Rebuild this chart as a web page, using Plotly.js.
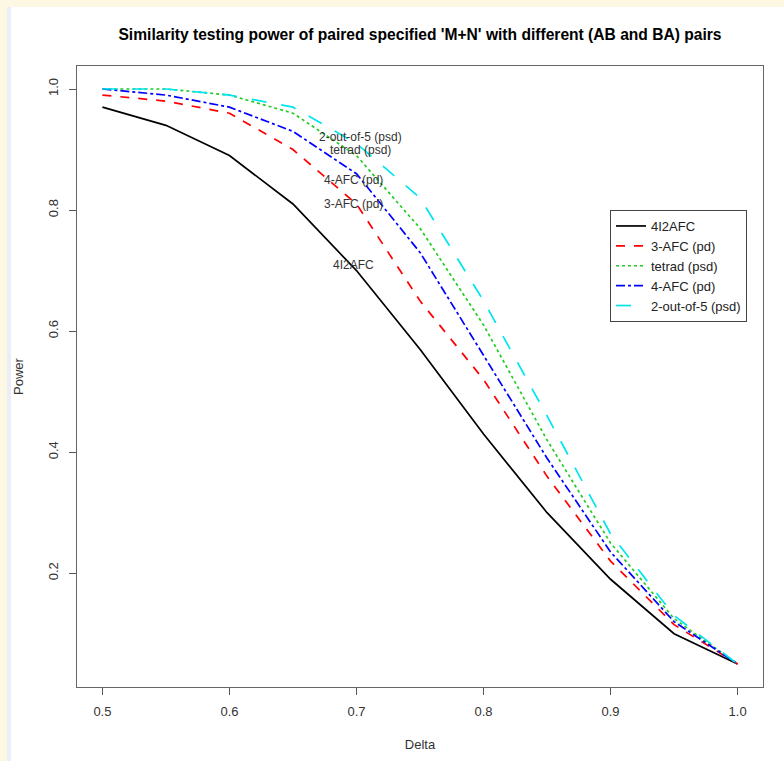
<!DOCTYPE html>
<html><head><meta charset="utf-8">
<script src="https://cdn.plot.ly/plotly-3.0.1.min.js"></script>
<style>
html,body{margin:0;padding:0;background:#fdf8e4;width:784px;height:761px;overflow:hidden;}
#strip{position:absolute;left:7px;top:7px;width:4px;height:754px;background:#e9eef7;}
#plot{position:absolute;left:11px;top:7px;width:773px;height:754px;background:#fff;}
</style></head>
<body>
<div id="strip"></div>
<div id="plot"></div>
<script>
var delta = [0.5, 0.55, 0.6, 0.65, 0.7, 0.75, 0.8, 0.85, 0.9, 0.95, 1.0];
var p4I2AFC = [0.97, 0.94, 0.89, 0.81, 0.70, 0.57, 0.43, 0.30, 0.19, 0.10, 0.05];
var p3AFC   = [0.99, 0.98, 0.96, 0.90, 0.81, 0.65, 0.52, 0.36, 0.22, 0.115, 0.05];
var pTetrad = [1.0, 1.0, 0.99, 0.96, 0.89, 0.77, 0.61, 0.42, 0.25, 0.125, 0.05];
var p4AFC   = [1.0, 0.99, 0.97, 0.93, 0.86, 0.73, 0.56, 0.39, 0.235, 0.12, 0.05];
var p2of5   = [1.0, 1.0, 0.99, 0.97, 0.91, 0.82, 0.65, 0.46, 0.265, 0.13, 0.05];
var seriesNames = ["4I2AFC", "3-AFC (pd)", "tetrad (psd)", "4-AFC (pd)", "2-out-of-5 (psd)"];
var labelText = ["2-out-of-5 (psd)", "tetrad (psd)", "4-AFC (pd)", "3-AFC (pd)", "4I2AFC"];
var labelX = [0.703, 0.703, 0.698, 0.698, 0.698];
var labelY = [0.921, 0.899, 0.85, 0.81, 0.709];
var xTicks = [0.5, 0.6, 0.7, 0.8, 0.9, 1.0];
var xTickText = ["0.5", "0.6", "0.7", "0.8", "0.9", "1.0"];
var yTicks = [0.2, 0.4, 0.6, 0.8, 1.0];
var yTickText = ["0.2", "0.4", "0.6", "0.8", "1.0"];

var ys = [p4I2AFC, p3AFC, pTetrad, p4AFC, p2of5];
var colors = ["#000000", "#ff0000", "#22cc22", "#0000ff", "#00e5ee"];
var dashes = ["solid", "dash", "dot", "dashdot", "longdash"];
var traces = ys.map(function(y, i){
  return {x: delta, y: y, type: "scatter", mode: "lines", name: seriesNames[i],
    line: {color: colors[i], width: 1.7, dash: dashes[i]}};
});
var font = {family: "Liberation Sans, Arial, sans-serif", size: 13, color: "#222"};
var annotations = labelText.map(function(t, i){
  return {x: labelX[i], y: labelY[i], xref: "x", yref: "y", text: t, showarrow: false,
    font: {family: font.family, size: 12, color: "#333"}, xanchor: "center", yanchor: "middle"};
});
var layout = {
  width: 773, height: 754,
  margin: {l: 66, r: 21, t: 59, b: 74},
  paper_bgcolor: "#ffffff", plot_bgcolor: "#ffffff",
  font: font,
  showlegend: true,
  title: {text: "Similarity testing power of paired specified 'M+N' with different (AB and BA) pairs",
    font: {family: font.family, size: 15.6, color: "#000", weight: "bold"},
    x: 0.5 + (66 - 21) / 2 / 773, xanchor: "center", y: 1 - 28 / 754, yanchor: "middle"},
  xaxis: {range: [0.48, 1.02], tickvals: xTicks, ticktext: xTickText, showgrid: false, zeroline: false,
    ticks: "outside", ticklen: 7, tickcolor: "#555", showline: true, linecolor: "#666", linewidth: 1, mirror: true,
    tickfont: {size: 13, color: "#333"}, ticklabelstandoff: 5,
    title: {text: "Delta", font: {size: 13, color: "#333"}, standoff: 22}},
  yaxis: {range: [0.012, 1.038], tickvals: yTicks, ticktext: yTickText, showgrid: false, zeroline: false,
    ticks: "outside", ticklen: 7, tickcolor: "#555", showline: true, linecolor: "#666", linewidth: 1, mirror: true,
    tickangle: -90, tickfont: {size: 13, color: "#333"}, ticklabelstandoff: 6,
    title: {text: "Power", font: {size: 13, color: "#333"}, standoff: 20}},
  legend: {x: (610 - 77) / 686, y: (687 - 210) / 621, xanchor: "left", yanchor: "top",
    bgcolor: "#ffffff", bordercolor: "#444", borderwidth: 1,
    font: {size: 13, color: "#222"}, tracegroupgap: 0, itemwidth: 30},
  annotations: annotations
};
Plotly.newPlot("plot", traces, layout, {displayModeBar: false, staticPlot: true});
</script>
</body></html>
